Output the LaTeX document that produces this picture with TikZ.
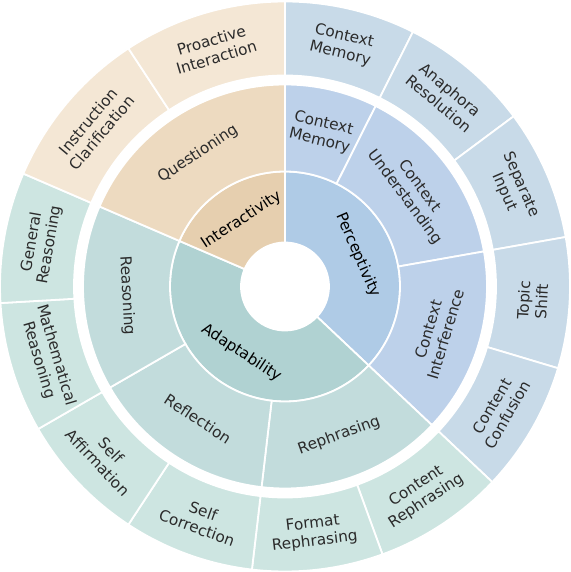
\documentclass[tikz,border=0pt]{standalone}
\usepackage{fontspec}
\setmainfont{DejaVu Sans}
\definecolor{pA}{HTML}{AFCBE6}
\definecolor{pB}{HTML}{BDD1EA}
\definecolor{pC}{HTML}{C8DAE8}
\definecolor{aA}{HTML}{B0D2D2}
\definecolor{aB}{HTML}{C2DCDC}
\definecolor{aC}{HTML}{CDE5E1}
\definecolor{iA}{HTML}{E6CFAF}
\definecolor{iB}{HTML}{EDDAC0}
\definecolor{iC}{HTML}{F4E7D5}
\definecolor{txtgray}{HTML}{2B2B2B}
\tikzset{
  segfill/.style={draw=white, line width=1.8pt, line join=miter},
  toplabel/.style={align=center, inner sep=0pt, text=black, font=\fontsize{15.3}{18}\selectfont},
  sublabel/.style={align=center, inner sep=0pt, text=txtgray, font=\fontsize{15.3}{18}\selectfont},
}
% #1 name, #2 inner r, #3 outer r, #4 start angle, #5 end angle, #6 colour, #7 label style, #8 text
\newcommand{\sbseg}[8]{%
  \fill[#6, segfill] (#4:#2pt) arc[start angle=#4, end angle=#5, radius=#2pt]
     -- (#5:#3pt) arc[start angle=#5, end angle=#4, radius=#3pt] -- cycle;
  \pgfmathsetmacro\midA{(#4+#5)/2}%
  \pgfmathsetmacro\midR{(#2+#3)/2}%
  \pgfmathsetmacro\rotA{sin(\midA)>=0 ? \midA-90 : \midA+90}%
  \node[#7, rotate=\rotA] (#1) at (\midA:\midR pt) {#8};
}
\begin{document}
\begin{tikzpicture}
\useasboundingbox (-285pt,-285.5pt) rectangle (285pt,286.5pt);
% ring 1
\sbseg{perc}{44}{115}{90}{-43.333}{pA}{toplabel}{Perceptivity}
\sbseg{adap}{44}{115}{-43.333}{-203.333}{aA}{toplabel}{Adaptability}
\sbseg{inter}{44}{115}{-203.333}{-270}{iA}{toplabel}{Interactivity}
% ring 2
\sbseg{cm}{115}{202}{90}{63.333}{pB}{sublabel}{Context\\Memory}
\sbseg{cu}{115}{202}{63.333}{10}{pB}{sublabel}{Context\\Understanding}
\sbseg{ci}{115}{202}{10}{-43.333}{pB}{sublabel}{Context\\Interference}
\sbseg{reph}{115}{202}{-43.333}{-96.667}{aB}{sublabel}{Rephrasing}
\sbseg{refl}{115}{202}{-96.667}{-150}{aB}{sublabel}{Reflection}
\sbseg{reas}{115}{202}{-150}{-203.333}{aB}{sublabel}{Reasoning}
\sbseg{ques}{115}{202}{-203.333}{-270}{iB}{sublabel}{Questioning}
% ring 3
\sbseg{lcm}{211}{285}{90}{63.333}{pC}{sublabel}{Context\\Memory}
\sbseg{lar}{211}{285}{63.333}{36.667}{pC}{sublabel}{Anaphora\\Resolution}
\sbseg{lsi}{211}{285}{36.667}{10}{pC}{sublabel}{Separate\\Input}
\sbseg{lts}{211}{285}{10}{-16.667}{pC}{sublabel}{Topic\\Shift}
\sbseg{lcc}{211}{285}{-16.667}{-43.333}{pC}{sublabel}{Content\\Confusion}
\sbseg{lcr}{211}{285}{-43.333}{-70}{aC}{sublabel}{Content\\Rephrasing}
\sbseg{lfr}{211}{285}{-70}{-96.667}{aC}{sublabel}{Format\\Rephrasing}
\sbseg{lsc}{211}{285}{-96.667}{-123.333}{aC}{sublabel}{Self\\Correction}
\sbseg{lsa}{211}{285}{-123.333}{-150}{aC}{sublabel}{Self\\Affirmation}
\sbseg{lmr}{211}{285}{-150}{-176.667}{aC}{sublabel}{Mathematical\\Reasoning}
\sbseg{lgr}{211}{285}{-176.667}{-203.333}{aC}{sublabel}{General\\Reasoning}
\sbseg{lic}{211}{285}{-203.333}{-236.667}{iC}{sublabel}{Instruction\\Clarification}
\sbseg{lpi}{211}{285}{-236.667}{-270}{iC}{sublabel}{Proactive\\Interaction}
\end{tikzpicture}
\end{document}
